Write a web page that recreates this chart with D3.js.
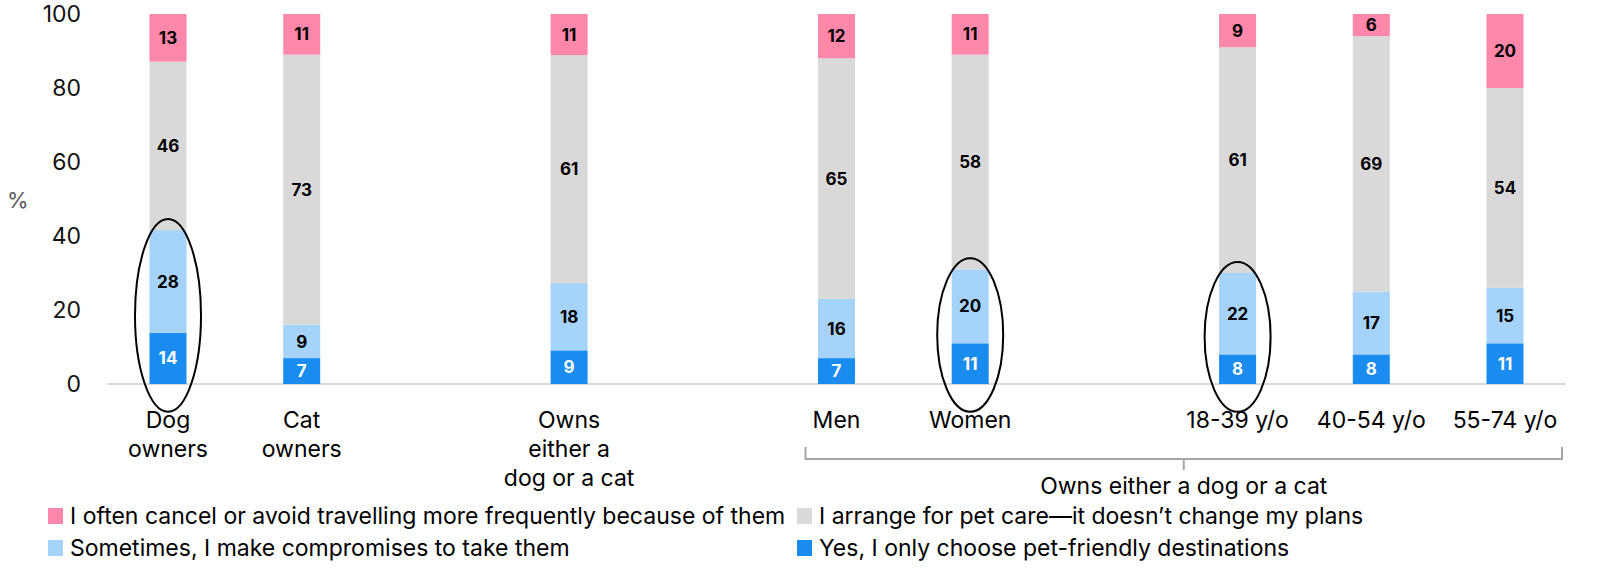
<!DOCTYPE html>
<html>
<head>
<meta charset="utf-8">
<script src="https://cdn.jsdelivr.net/npm/d3@7"></script>
<style>
  body { margin: 0; background: #fff; }
  text { font-family: Inter, "Liberation Sans", Arial, sans-serif; }
</style>
</head>
<body>
<div id="chart"></div>
<script>
// data
var categories = ["Dog owners", "Cat owners", "Owns either a dog or a cat", "Men", "Women", "18-39 y/o", "40-54 y/o", "55-74 y/o"];
var yesOnly    = [14, 7, 9, 7, 11, 8, 8, 11];
var compromise = [28, 9, 18, 16, 20, 22, 17, 15];
var arrange    = [46, 73, 61, 65, 58, 61, 69, 54];
var cancel     = [13, 11, 11, 12, 11, 9, 6, 20];
var yTicks = [0, 20, 40, 60, 80, 100];
var circled = ["Dog owners", "Women", "18-39 y/o"];
var groupLabel = "Owns either a dog or a cat";
var groupMembers = ["Men", "Women", "18-39 y/o", "40-54 y/o", "55-74 y/o"];

var keys = ["yes", "comp", "arr", "cancel"];
var legendNames = {
  cancel: "I often cancel or avoid travelling more frequently because of them",
  arr: "I arrange for pet care\u2014it doesn\u2019t change my plans",
  comp: "Sometimes, I make compromises to take them",
  yes: "Yes, I only choose pet-friendly destinations"
};
var colors = { yes: "#1a8cf0", comp: "#a6d3fa", arr: "#d9d9d9", cancel: "#ff88aa" };

// where the category labels break onto new lines
var labelBreaks = {
  "Dog owners": ["Dog", "owners"],
  "Cat owners": ["Cat", "owners"],
  "Owns either a dog or a cat": ["Owns", "either a", "dog or a cat"]
};

var rows = categories.map(function(c, i) {
  return { cat: c, yes: yesOnly[i], comp: compromise[i], arr: arrange[i], cancel: cancel[i] };
});

// slots with gaps between groups
var gapAfter = ["Cat owners", "Owns either a dog or a cat", "Women"];
var slots = [];
categories.forEach(function(c, i) {
  slots.push(c);
  if (gapAfter.indexOf(c) >= 0) slots.push("_gap" + i);
});

var width = 1612, height = 581;
var fontSize = "23px";
var svg = d3.select("#chart").append("svg")
  .attr("width", width).attr("height", height);

var x = d3.scalePoint().domain(slots).range([168, 1505]);
var y = d3.scaleLinear().domain([0, 1]).range([384, 14]);
var barW = 37;

var stack = d3.stack().keys(keys).offset(d3.stackOffsetExpand);
var series = stack(rows);

// y tick labels
svg.append("g").selectAll("text")
  .data(yTicks).enter().append("text")
  .attr("x", 81)
  .attr("y", function(d) { return y(d / 100); })
  .attr("dy", "0.36em")
  .attr("text-anchor", "end")
  .style("font-size", fontSize)
  .style("fill", "#111")
  .text(function(d) { return d; });

svg.append("text")
  .attr("x", 7).attr("y", 200).attr("dy", "0.36em")
  .style("font-size", "22px").style("fill", "#595959")
  .text("%");

// baseline
svg.append("line")
  .attr("x1", 107).attr("x2", 1566)
  .attr("y1", y(0)).attr("y2", y(0))
  .attr("stroke", "#d9d9d9").attr("stroke-width", 2);

// bars
var layer = svg.append("g").selectAll("g")
  .data(series).enter().append("g")
  .attr("fill", function(d) { return colors[d.key]; });

layer.selectAll("rect")
  .data(function(d) { return d; })
  .enter().append("rect")
  .attr("x", function(d) { return x(d.data.cat) - barW / 2; })
  .attr("width", barW)
  .attr("y", function(d) { return y(d[1]); })
  .attr("height", function(d) { return y(d[0]) - y(d[1]); });

// value labels
series.forEach(function(s) {
  svg.append("g").selectAll("text")
    .data(s).enter().append("text")
    .attr("x", function(d) { return x(d.data.cat); })
    .attr("y", function(d) { return (y(d[0]) + y(d[1])) / 2; })
    .attr("dy", "0.36em")
    .attr("text-anchor", "middle")
    .style("font-size", "17px")
    .style("font-weight", "bold")
    .style("fill", s.key === "yes" ? "#fff" : "#000")
    .text(function(d) { return d.data[s.key]; });
});

// ellipses around highlighted bars
function ellTop(d) {
  var tot = d.yes + d.comp + d.arr + d.cancel;
  return y((d.yes + d.comp) / tot + 0.03);
}
var ellBottom = y(-0.075);
var ell = rows.filter(function(r) { return circled.indexOf(r.cat) >= 0; });
svg.append("g").selectAll("ellipse")
  .data(ell).enter().append("ellipse")
  .attr("cx", function(d) { return x(d.cat); })
  .attr("cy", function(d) { return (ellTop(d) + ellBottom) / 2; })
  .attr("rx", 33)
  .attr("ry", function(d) { return (ellBottom - ellTop(d)) / 2; })
  .attr("fill", "none")
  .attr("stroke", "#000")
  .attr("stroke-width", 2);

// category labels
var catLabels = svg.append("g").selectAll("text")
  .data(categories).enter().append("text")
  .attr("x", function(d) { return x(d); })
  .attr("y", 420)
  .attr("text-anchor", "middle")
  .style("font-size", fontSize)
  .style("fill", "#000");

catLabels.each(function(d) {
  var lines = labelBreaks[d] || [d];
  var el = d3.select(this);
  lines.forEach(function(l, i) {
    el.append("tspan")
      .attr("x", x(d))
      .attr("dy", i === 0 ? "0.36em" : "29px")
      .text(l);
  });
});

// group bracket
var bx1 = x(groupMembers[0]) - 31;
var bx2 = x(groupMembers[groupMembers.length - 1]) + 57;
var bmid = (bx1 + bx2) / 2;
var bracket = svg.append("g")
  .attr("stroke", "#a6a6a6").attr("stroke-width", 2).attr("fill", "none");
bracket.append("path")
  .attr("d", "M" + bx1 + ",447V459H" + bx2 + "V447");
bracket.append("line")
  .attr("x1", bmid).attr("x2", bmid).attr("y1", 459).attr("y2", 470);
svg.append("text")
  .attr("x", bmid).attr("y", 486).attr("dy", "0.36em")
  .attr("text-anchor", "middle")
  .style("font-size", fontSize)
  .text(groupLabel);

// legend
var legendOrder = [["cancel", 0, 0], ["arr", 1, 0], ["comp", 0, 1], ["yes", 1, 1]];
var legend = svg.append("g").selectAll("g")
  .data(legendOrder).enter().append("g")
  .attr("transform", function(d) {
    return "translate(" + (d[1] ? 797 : 48) + "," + (516 + d[2] * 32) + ")";
  });
legend.append("rect")
  .attr("x", 0).attr("y", -8)
  .attr("width", 15).attr("height", 16)
  .attr("fill", function(d) { return colors[d[0]]; });
legend.append("text")
  .attr("x", 22).attr("dy", "0.36em")
  .style("font-size", fontSize)
  .text(function(d) { return legendNames[d[0]]; });
</script>
</body>
</html>
